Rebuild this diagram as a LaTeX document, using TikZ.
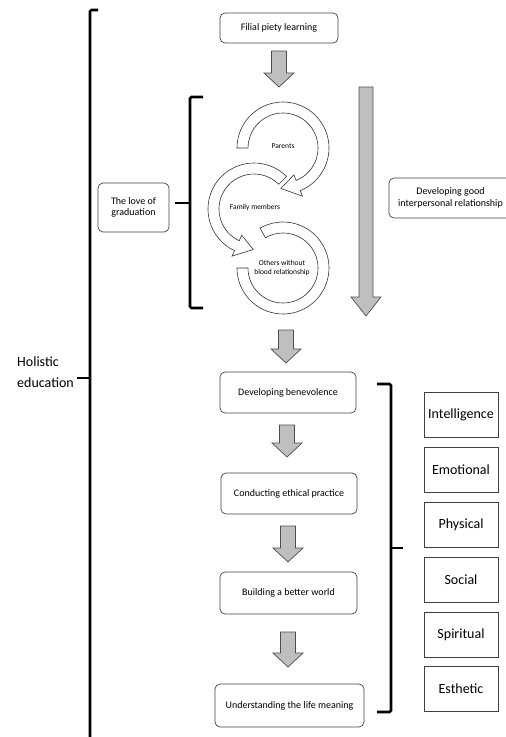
\documentclass[tikz,border=0pt]{standalone}
\usepackage{fontspec}
\setmainfont{Carlito}
\usetikzlibrary{calc}
\newcommand\blockarrow[3]{%
  \draw[barrow] (#1-7.5,-#2) -- (#1+7.5,-#2) -- (#1+7.5,-#3+14) -- (#1+15,-#3+14) -- (#1,-#3) -- (#1-15,-#3+14) -- (#1-7.5,-#3+14) -- cycle;}
\begin{document}
\begin{tikzpicture}[x=1pt,y=1pt,
  rbox/.style={draw=black!75, line width=0.7pt, rounded corners=5pt, align=center, font=\fontsize{10}{11.5}\selectfont, inner sep=0pt},
  sbox/.style={draw=black!75, line width=0.7pt, minimum width=74pt, minimum height=45pt, font=\fontsize{14}{16}\selectfont, inner sep=0pt},
  brace/.style={line width=2.6pt, black, rounded corners=1.5pt},
  barrow/.style={draw=black!70, line width=0.7pt, fill=black!25, line join=miter},
  ring/.style={draw=black!80, line width=0.6pt, fill=white},
  rlabel/.style={font=\fontsize{7.5}{9}\selectfont, align=center, inner sep=0pt}]
\useasboundingbox (0,0) rectangle (506,-737);
\clip (0,0) rectangle (506,-737);

% brackets
\draw[brace] (98,-10) -- (90,-10) -- (90,-750);
\draw[brace] (90,-378) -- (77,-378);
\draw[brace] (203,-97) -- (190,-97) -- (190,-308) -- (203,-308);
\draw[brace] (190,-203) -- (175,-203);
\draw[brace] (377,-384) -- (391,-384) -- (391,-712) -- (377,-712);
\draw[brace] (391,-548) -- (403,-548);

% left text
\node[align=left, anchor=west, inner sep=0pt, font=\fontsize{14}{21}\selectfont] (holistic) at (17,-372) {Holistic\\education};

% rounded boxes
\node[rbox, minimum width=118pt, minimum height=30pt] (filial) at (279,-28) {Filial piety learning};
\node[rbox, minimum width=71pt, minimum height=49pt] (love) at (133.5,-207.5) {The love of\\graduation};
\node[rbox, minimum width=123pt, minimum height=40pt] (devgood) at (450.5,-198) {Developing good\\interpersonal relationship};
\node[rbox, minimum width=136pt, minimum height=41pt] (benev) at (288,-392.5) {Developing benevolence};
\node[rbox, minimum width=136pt, minimum height=41pt] (conduct) at (289,-493.5) {Conducting ethical practice};
\node[rbox, minimum width=137pt, minimum height=42pt] (build) at (288.5,-593) {Building a better world};
\node[rbox, minimum width=149pt, minimum height=43pt] (underst) at (289.5,-705.5) {Understanding the life meaning};

% right square boxes
\node[sbox] (intel) at (461,-414.5) {Intelligence};
\node[sbox] (emot) at (461,-469.5) {Emotional};
\node[sbox] (phys) at (461,-524.5) {Physical};
\node[sbox] (soc) at (461,-579.5) {Social};
\node[sbox] (spir) at (461,-634.5) {Spiritual};
\node[sbox] (esth) at (461,-689) {Esthetic};

% block arrows
\blockarrow{279}{51}{87}
\blockarrow{286}{330}{363}
\blockarrow{287}{425}{457}
\blockarrow{288}{526}{562}
\blockarrow{288}{632}{667}
\draw[barrow] (359,-87) -- (373,-87) -- (373,-297) -- (381,-297) -- (366,-316) -- (351,-297) -- (359,-297) -- cycle;

% circular arrows
\coordinate (c1) at (283,-148);
\coordinate (c2) at (254,-209);
\coordinate (c3) at (283,-268);
\draw[ring] ($(c3)+(120:46pt)$) arc[start angle=120, end angle=-180, radius=46pt]
  -- ($(c3)+(180:35pt)$) arc[start angle=-180, end angle=120, radius=35pt] -- cycle;
\draw[ring] ($(c2)+(45:46pt)$) arc[start angle=45, end angle=245, radius=46pt]
  -- ($(c2)+(245:52pt)$) -- ($(c2)+(269:40.5pt)$) -- ($(c2)+(245:29pt)$)
  -- ($(c2)+(245:35pt)$) arc[start angle=245, end angle=45, radius=35pt] -- cycle;
\draw[ring] ($(c1)+(180:46pt)$) arc[start angle=180, end angle=-68, radius=46pt]
  -- ($(c1)+(-68:52pt)$) -- ($(c1)+(-93:40.5pt)$) -- ($(c1)+(-68:29pt)$)
  -- ($(c1)+(-68:35pt)$) arc[start angle=-68, end angle=180, radius=35pt] -- cycle;

\node[rlabel] (parents) at (283,-146) {Parents};
\node[rlabel] (family) at (255,-207) {Family members};
\node[rlabel] (others) at (282,-268) {Others without\\blood relationship};
\end{tikzpicture}
\end{document}
